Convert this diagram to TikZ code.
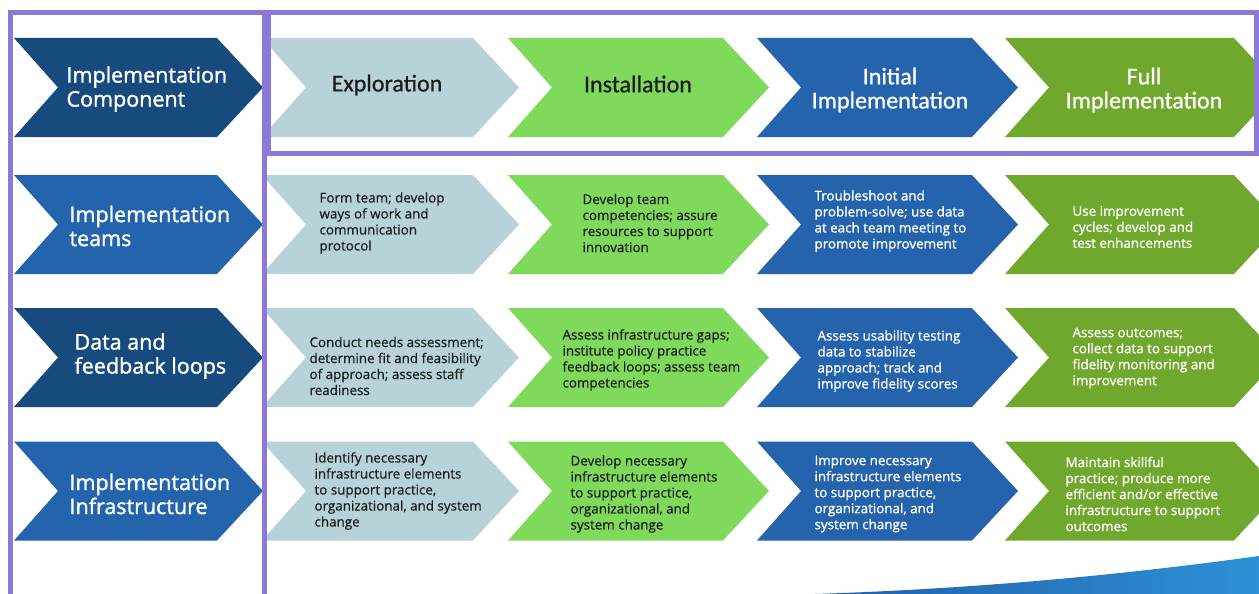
\documentclass[tikz,border=0pt]{standalone}
\usepackage{fontspec}
\setmainfont{Open Sans}
\newfontfamily\stagefont{Carlito}[FakeBold=0.8]
\newfontfamily\compfont{Open Sans}[FakeBold=1.4]
\newfontfamily\lightfont{Open Sans}[FakeBold=1]
\newfontfamily\darkfont{Open Sans}[FakeBold=0.5]

\definecolor{compdark}{HTML}{174A7D}
\definecolor{compblue}{HTML}{2464AC}
\definecolor{explore}{HTML}{B7D2D9}
\definecolor{install}{HTML}{7FD95B}
\definecolor{initial}{HTML}{2563AD}
\definecolor{full}{HTML}{70A72D}
\definecolor{frame}{HTML}{8C78D6}
\definecolor{textdark}{HTML}{1C1C1C}
\definecolor{swooshA}{HTML}{1F5FAA}
\definecolor{swooshB}{HTML}{2F90D6}

% chevron: left x, middle y, width, colour
\newcommand{\chevron}[4]{%
  \fill[#4] (#1,#2-49.5) -- (#1+#3-46,#2-49.5) -- (#1+#3,#2)
    -- (#1+#3-46,#2+49.5) -- (#1,#2+49.5) -- (#1+44,#2) -- cycle;}

\begin{document}
\begin{tikzpicture}[x=1pt,y=-1pt]

	% Styles
	\tikzstyle{comptext} = [text=white,align=left,anchor=west,font=\compfont\fontsize{21.5}{24}\selectfont]
	\tikzstyle{stagetext} = [align=center,font=\stagefont\fontsize{24}{24}\selectfont]
	\tikzstyle{darktext} = [text=textdark,align=left,anchor=west,font=\darkfont\fontsize{13.4}{16}\selectfont]
	\tikzstyle{lighttext} = [darktext,text=white,font=\lightfont\fontsize{13.4}{16}\selectfont]

	\useasboundingbox (0,0) rectangle (1259,594);

	% Kopfzeile
	\chevron{14}{87.5}{249}{compdark}
	\chevron{262}{87.5}{257}{explore}
	\chevron{508}{87.5}{261}{install}
	\chevron{757}{87.5}{261}{initial}
	\chevron{1005}{87.5}{275}{full}

	% Teams
	\chevron{14}{224.5}{249}{compblue}
	\chevron{262}{224.5}{257}{explore}
	\chevron{508}{224.5}{261}{install}
	\chevron{757}{224.5}{261}{initial}
	\chevron{1005}{224.5}{275}{full}

	% Daten
	\chevron{14}{357.5}{249}{compdark}
	\chevron{262}{357.5}{257}{explore}
	\chevron{508}{357.5}{261}{install}
	\chevron{757}{357.5}{261}{initial}
	\chevron{1005}{357.5}{275}{full}

	% Infrastruktur
	\chevron{14}{491}{249}{compblue}
	\chevron{262}{491}{257}{explore}
	\chevron{508}{491}{261}{install}
	\chevron{757}{491}{261}{initial}
	\chevron{1005}{491}{275}{full}

	% Swoosh unten rechts
	\shade[left color=swooshA,right color=swooshB] (815,594) .. controls (1000,588) and (1150,571) .. (1259,556) -- (1259,594) -- cycle;

	% Labels Komponenten
	\node at (63,89) [comptext] (comp) {Implementation\\Component};
	\node at (66,226) [comptext] (teams) {Implementation\\teams};
	\node at (71,356) [comptext] (data) {Data and\\feedback loops};
	\node at (66,494) [comptext] (infra) {Implementation\\Infrastructure};

	% Labels Phasen
	\node at (387,85) [stagetext,text=textdark] (exploration) {Exploration};
	\node at (638,84) [stagetext,text=textdark] (installation) {Installation};
	\node at (890,90) [stagetext,text=white] (initialimpl) {Initial\\Implementation};
	\node at (1144,90) [stagetext,text=white] (fullimpl) {Full\\Implementation};

	% Teams
	\node at (316,223) [darktext] (teamsexp) {Form team; develop\\ways of work and\\communication\\protocol};
	\node at (579,223) [darktext] (teamsins) {Develop team\\competencies; assure\\resources to support\\innovation};
	\node at (811,221) [lighttext] (teamsini) {Troubleshoot and\\problem-solve; use data\\at each team meeting to\\promote improvement};
	\node at (1069,227) [lighttext] (teamsful) {Use improvement\\cycles; develop and\\test enhancements};

	% Daten
	\node at (306,366) [darktext] (dataexp) {Conduct needs assessment;\\determine fit and feasibility\\of approach; assess staff\\readiness};
	\node at (559,360) [darktext] (datains) {Assess infrastructure gaps;\\institute policy practice\\feedback loops; assess team\\competencies};
	\node at (814,361) [lighttext] (dataini) {Assess usability testing\\data to stabilize\\approach; track and\\improve fidelity scores};
	\node at (1069,358) [lighttext] (dataful) {Assess outcomes;\\collect data to support\\fidelity monitoring and\\improvement};

	% Infrastruktur
	\node at (311,491) [darktext] (infraexp) {Identify necessary\\infrastructure elements\\to support practice,\\organizational, and system\\change};
	\node at (567,494) [darktext] (infrains) {Develop necessary\\infrastructure elements\\to support practice,\\organizational, and\\system change};
	\node at (811,494) [lighttext] (infraini) {Improve necessary\\infrastructure elements\\to support practice,\\organizational, and\\system change};
	\node at (1062,494) [lighttext] (infraful) {Maintain skillful\\practice; produce more\\efficient and/or effective\\infrastructure to support\\outcomes};

	% Rahmen
	\draw[frame,line width=5pt] (10.5,600) -- (10.5,13) -- (264.5,13) -- (264.5,600);
	\draw[frame,line width=5pt] (268.5,13) rectangle (1256.5,153);

\end{tikzpicture}
\end{document}
